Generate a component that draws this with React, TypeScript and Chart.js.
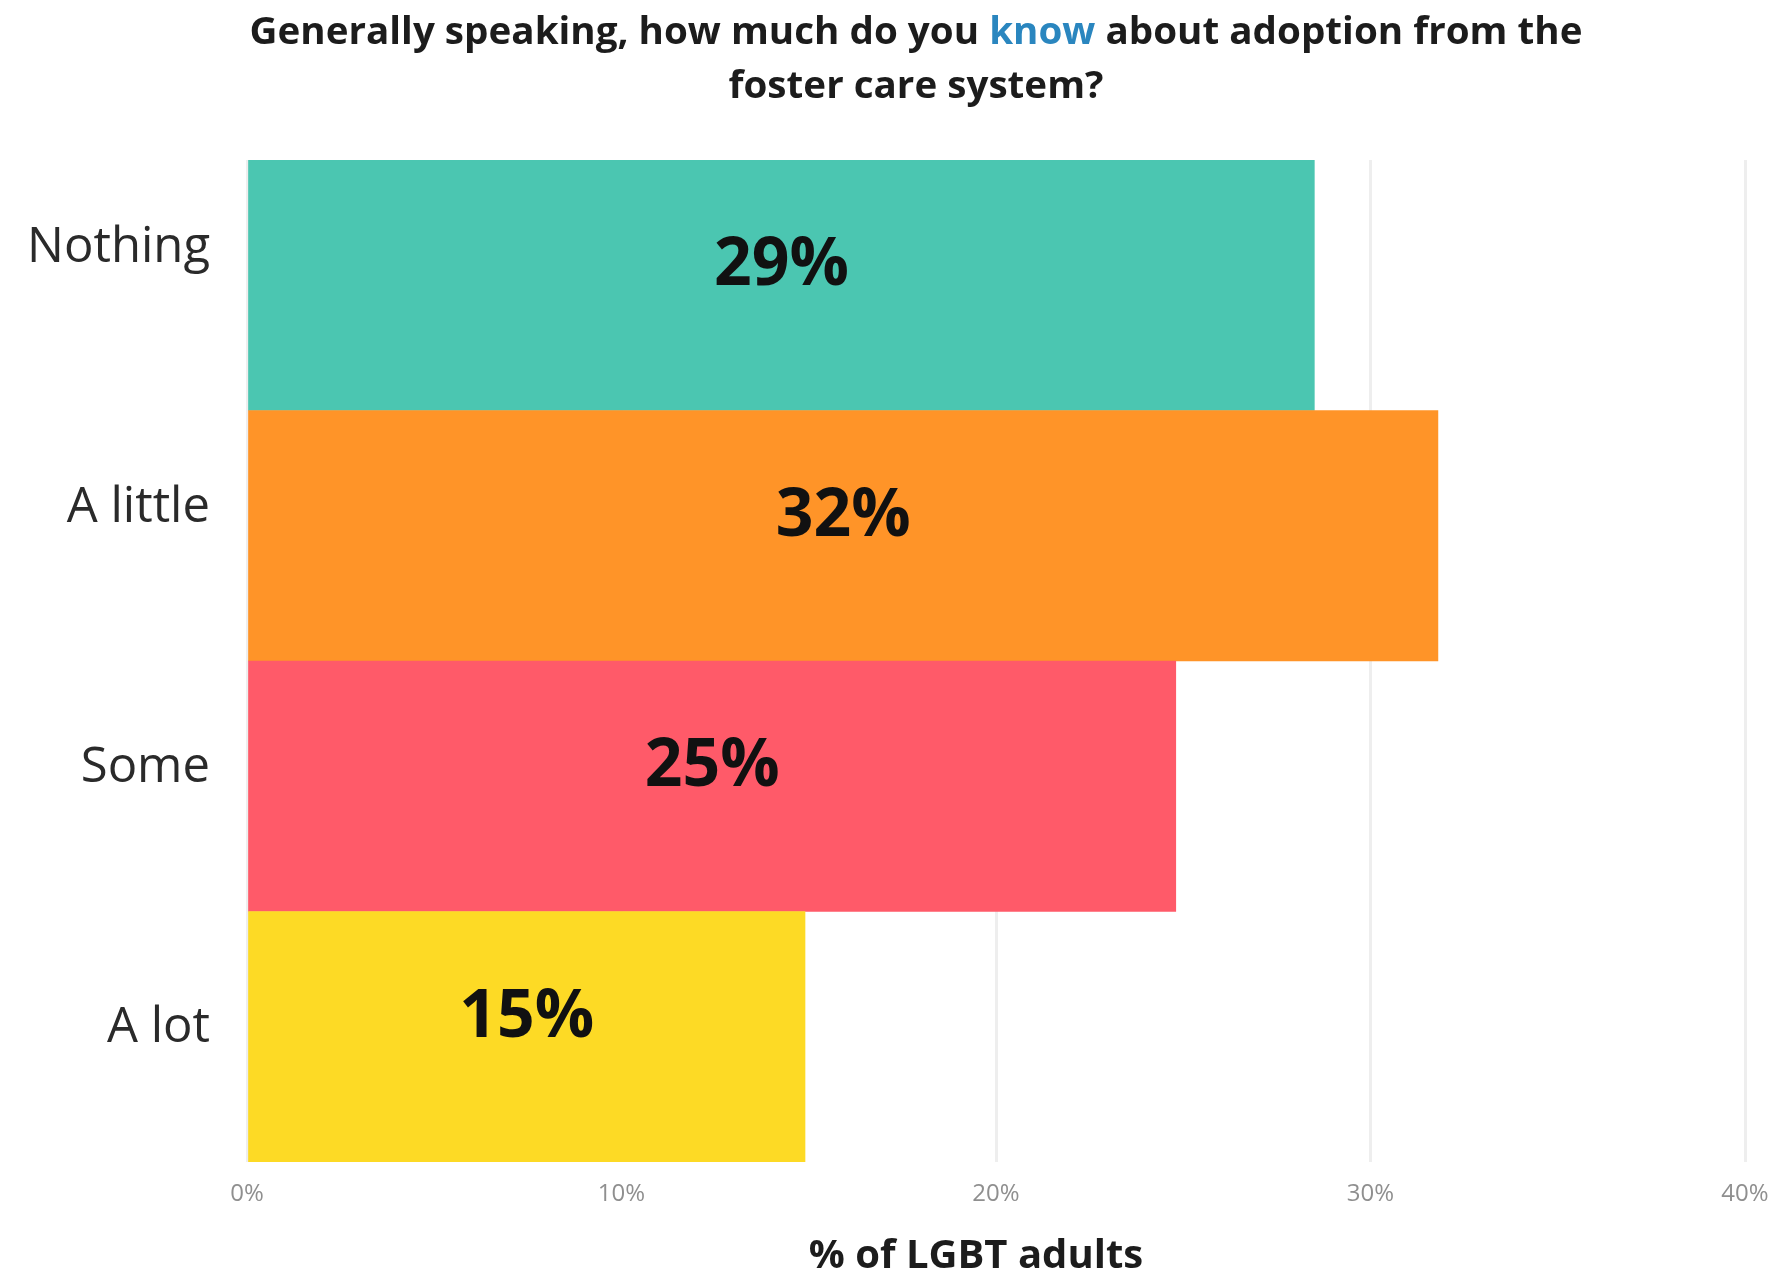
import React, { useEffect, useRef } from 'react';
import { Chart, registerables } from 'chart.js';

Chart.register(...registerables);

const categories = ['Nothing', 'A little', 'Some', 'A lot'];
const values = [28.5, 31.8, 24.8, 14.9];
const barColors = ['#4BC6B1', '#FF9428', '#FF5A69', '#FDDA25'];
const xMin = 0;
const xMax = 40;
const xStep = 10;
const xAxisTitle = '% of LGBT adults';
const titleLines = [
  [
    { text: 'Generally speaking, how much do you ', color: '#1c1c1c' },
    { text: 'know', color: '#2A86BF' },
    { text: ' about adoption from the', color: '#1c1c1c' },
  ],
  [{ text: 'foster care system?', color: '#1c1c1c' }],
];

const FONT = '"Open Sans", "Noto Sans", sans-serif';

// layout constants for the text (not data)
const TITLE_CX = 916;
const TITLE_YS = [33, 87];
const TITLE_W = 1333;
const XTITLE_CX = 976;
const XTITLE_Y = 1257;
const CAT_SPREAD = 1.037;
const CAT_SHIFT = -23;
const CAT_PAD = 37;

const richTitlePlugin = {
  id: 'richTitle',
  afterDraw(chart: any) {
    const ctx = chart.ctx as CanvasRenderingContext2D;
    ctx.save();
    ctx.font = `bold 38px ${FONT}`;
    ctx.textBaseline = 'middle';
    ctx.textAlign = 'left';
    const w0 = ctx.measureText(titleLines[0].map((p) => p.text).join('')).width;
    const sx = TITLE_W / w0;
    titleLines.forEach((parts, li) => {
      const full = parts.map((p) => p.text).join('');
      const w = ctx.measureText(full).width * sx;
      let x = TITLE_CX - w / 2;
      parts.forEach((p) => {
        ctx.save();
        ctx.translate(x, TITLE_YS[li]);
        ctx.scale(sx, 1);
        ctx.fillStyle = p.color;
        ctx.fillText(p.text, 0, 0);
        ctx.restore();
        x += ctx.measureText(p.text).width * sx;
      });
    });
    // x axis title
    ctx.font = `bold 40px ${FONT}`;
    ctx.fillStyle = '#1c1c1c';
    ctx.textAlign = 'center';
    ctx.fillText(xAxisTitle, XTITLE_CX, XTITLE_Y);
    // category labels
    const ys = chart.scales.y;
    const mid = (ys.top + ys.bottom) / 2;
    ctx.font = `49px ${FONT}`;
    ctx.fillStyle = '#2a2a2a';
    ctx.textAlign = 'right';
    categories.forEach((c, i) => {
      const yb = ys.getPixelForValue(i);
      const y = mid + (yb - mid) * CAT_SPREAD + CAT_SHIFT;
      ctx.fillText(c, ys.right - CAT_PAD, y);
    });
    ctx.restore();
  },
};

const barLabelPlugin = {
  id: 'barLabels',
  afterDatasetsDraw(chart: any) {
    const ctx = chart.ctx as CanvasRenderingContext2D;
    const meta = chart.getDatasetMeta(0);
    ctx.save();
    ctx.font = `bold 66px ${FONT}`;
    ctx.fillStyle = '#111111';
    ctx.textAlign = 'center';
    ctx.textBaseline = 'middle';
    meta.data.forEach((el: any, i: number) => {
      const x = (el.x + el.base) / 2;
      const y = el.y - 19;
      ctx.fillText(`${Math.round(values[i])}%`, x, y);
    });
    ctx.restore();
  },
};

export default function App() {
  const canvasRef = useRef<HTMLCanvasElement | null>(null);

  useEffect(() => {
    const canvas = canvasRef.current;
    if (!canvas) return;
    const chart = new Chart(canvas, {
      type: 'bar',
      data: {
        labels: categories,
        datasets: [
          {
            data: values,
            backgroundColor: barColors,
            borderWidth: 0,
            categoryPercentage: 1,
            barPercentage: 1,
          },
        ],
      },
      options: {
        indexAxis: 'y',
        animation: false,
        responsive: false,
        layout: { padding: { top: 160, right: 34, left: 0, bottom: 0 } },
        plugins: {
          legend: { display: false },
          tooltip: { enabled: false },
          title: { display: false },
        },
        scales: {
          x: {
            min: xMin,
            max: xMax,
            ticks: {
              stepSize: xStep,
              callback: (v: any) => `${v}%`,
              color: '#8f8f8f',
              font: { family: FONT, size: 24 },
              padding: 18,
              maxRotation: 0,
            },
            grid: { color: '#eeeeee', lineWidth: 3, drawTicks: false },
            border: { display: false },
            title: { display: false },
            afterFit: (s: any) => {
              s.height = 115;
              s.paddingRight = 0;
              s.paddingLeft = 0;
            },
          },
          y: {
            ticks: { display: false },
            grid: { display: false, drawTicks: false },
            border: { display: false },
            afterFit: (s: any) => {
              s.width = 247;
            },
          },
        },
      } as any,
      plugins: [richTitlePlugin, barLabelPlugin],
    });
    return () => chart.destroy();
  }, []);

  return (
    <div style={{ position: 'fixed', left: 0, top: 0, width: 1779, height: 1277, background: '#fff' }}>
      <canvas ref={canvasRef} width={1779} height={1277} style={{ display: 'block' }} />
    </div>
  );
}
